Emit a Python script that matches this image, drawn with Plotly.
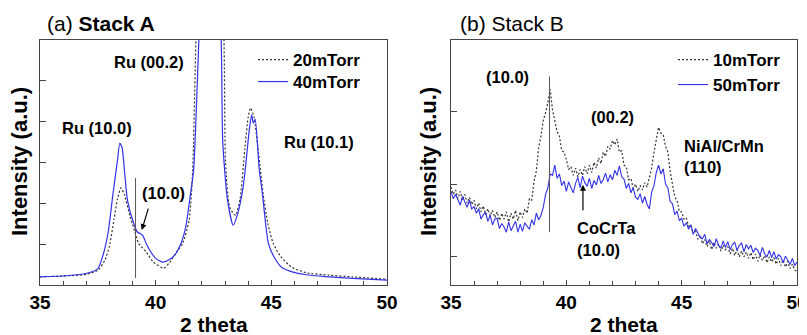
import plotly.graph_objects as go

# ---------------- Data ----------------
# Panel (a) Stack A
a_x_20 = [35, 36, 37, 37.5, 37.8, 38.0, 38.2, 38.35, 38.5, 38.65, 38.9, 39.1, 39.26, 39.6, 39.9,
          40.35, 40.6, 40.9, 41.17, 41.45, 41.6, 41.74, 42.0, 42.3, 42.6, 42.95, 43.02, 43.2,
          43.45, 43.65, 43.85, 44.0, 44.1, 44.25, 44.45, 44.65, 44.85, 45.08, 45.4, 45.87,
          46.5, 47.5, 48.5, 50]
a_y_20 = [0.2, 0.22, 0.26, 0.36, 0.6, 0.95, 1.6, 2.1, 2.37, 2.2, 1.66, 1.3, 1.02, 0.8, 0.56,
          0.41, 0.55, 0.8, 1.02, 1.6, 2.8, 6.0, 10.0, 11.0, 10.0, 6.0, 3.0, 1.9,
          1.7, 2.1, 3.3, 4.1, 4.32, 4.1, 3.2, 2.2, 1.5, 1.02, 0.7, 0.44,
          0.3, 0.24, 0.2, 0.14]

a_x_40 = [35, 36, 37, 37.5, 37.75, 37.95, 38.15, 38.35, 38.45, 38.55, 38.65, 38.78, 39.05,
          39.2, 39.35, 39.45, 39.6, 39.8, 40.0, 40.3, 40.6, 40.85, 41.1, 41.3, 41.5, 41.64,
          41.87, 42.1, 42.3, 42.5, 42.83, 42.9, 43.1, 43.35, 43.55, 43.78, 43.87, 44.05, 44.15,
          44.22, 44.3, 44.48, 44.6, 44.87, 45.1, 45.43, 45.8, 46.5, 47.5, 48.5, 50]
a_y_40 = [0.2, 0.22, 0.28, 0.4, 0.78, 1.3, 2.2, 3.05, 3.46, 3.35, 2.8, 2.07, 1.5,
          1.3, 1.25, 1.2, 1.0, 0.8, 0.65, 0.56, 0.62, 0.75, 1.02, 1.41, 2.2, 2.8,
          6.0, 9.0, 10.0, 9.0, 6.0, 3.5, 2.1, 1.46, 1.75, 2.39, 2.8, 3.8, 4.15,
          3.95, 4.05, 2.8, 2.3, 1.02, 0.7, 0.44, 0.34, 0.25, 0.2, 0.16, 0.12]

# Panel (b) Stack B: sampled every 0.1 deg from 35.0 to 50.0
b_start = 35.0
b_step = 0.1
b_y_10 = [
    1.96, 1.86, 1.92, 1.80, 1.90, 1.78, 1.86, 1.74, 1.82, 1.72,
    1.78, 1.66, 1.74, 1.62, 1.70, 1.58, 1.66, 1.56, 1.64, 1.54,
    1.62, 1.50, 1.60, 1.52, 1.62, 1.48, 1.60, 1.52, 1.64, 1.50,
    1.62, 1.54, 1.66, 1.60, 1.80, 1.78, 2.04, 2.18, 2.50, 2.66,
    2.88, 2.98, 3.12, 3.30, 3.02, 2.88, 2.72, 2.66, 2.46, 2.44,
    2.34, 2.20, 2.24, 2.12, 2.22, 2.10, 2.20, 2.12, 2.24, 2.14,
    2.26, 2.16, 2.30, 2.22, 2.36, 2.28, 2.44, 2.38, 2.52, 2.48,
    2.60, 2.54, 2.62, 2.44, 2.46, 2.26, 2.24, 2.06, 2.08, 1.94,
    2.00, 1.90, 1.98, 1.92, 2.02, 1.96, 2.08, 2.22, 2.44, 2.60,
    2.78, 2.70, 2.68, 2.52, 2.44, 2.18, 2.02, 1.82, 1.78, 1.62,
    1.62, 1.52, 1.54, 1.42, 1.44, 1.32, 1.36, 1.24, 1.30, 1.18,
    1.24, 1.14, 1.22, 1.10, 1.20, 1.12, 1.18, 1.08, 1.16, 1.10,
    1.14, 1.04, 1.12, 1.02, 1.10, 1.00, 1.08, 1.00, 1.07, 0.98,
    1.06, 0.96, 1.04, 0.94, 1.03, 0.95, 1.02, 0.92, 1.00, 0.93,
    0.99, 0.90, 0.98, 0.88, 0.96, 0.86, 0.94, 0.84, 0.90, 0.82,
    0.80]
b_y_50 = [
    1.90, 1.80, 1.86, 1.77, 1.71, 1.83, 1.74, 1.68, 1.78, 1.66,
    1.69, 1.60, 1.66, 1.52, 1.58, 1.61, 1.49, 1.57, 1.44, 1.52,
    1.53, 1.39, 1.46, 1.41, 1.34, 1.48, 1.36, 1.43, 1.49, 1.34,
    1.45, 1.35, 1.47, 1.42, 1.38, 1.51, 1.44, 1.60, 1.51, 1.57,
    1.68, 1.86, 1.95, 2.14, 2.12, 2.26, 2.08, 2.14, 1.98, 2.04,
    1.90, 2.03, 1.96, 1.88, 2.01, 2.09, 1.95, 2.11, 2.02, 1.97,
    2.08, 1.94, 2.05, 1.99, 2.12, 2.01, 2.06, 2.15, 2.03, 2.13,
    2.06, 2.19, 2.12, 2.25, 2.10, 2.07, 1.94, 2.01, 1.88, 1.95,
    1.82, 1.79, 1.87, 1.74, 1.83, 1.72, 1.66, 1.89, 1.98, 2.16,
    2.26, 2.14, 2.21, 2.00, 1.95, 1.76, 1.73, 1.58, 1.63, 1.50,
    1.53, 1.42, 1.47, 1.38, 1.44, 1.31, 1.39, 1.33, 1.27, 1.25,
    1.31, 1.18, 1.24, 1.20, 1.14, 1.25, 1.16, 1.12, 1.22, 1.13,
    1.21, 1.10, 1.17, 1.20, 1.09, 1.16, 1.19, 1.07, 1.17, 1.11,
    1.16, 1.06, 1.12, 1.09, 1.02, 1.13, 1.04, 1.00, 1.09, 0.99,
    1.07, 0.97, 1.03, 1.00, 0.92, 1.01, 0.95, 0.90, 0.98, 0.88,
    0.93]

x_ticks = [35, 40, 45, 50]
x_tick_text = ["35", "40", "45", "50"]
a_y_ticks = [1, 2, 3, 4, 5]
b_y_ticks = [1, 2, 3]

# ---------------- Figure ----------------
W, H = 807, 335
OFF = 8  # page body margin offset
FONT = "Arial, Liberation Sans, sans-serif"
BLUE = "#3232e6"
DOT = "#333333"
AXC = "#444444"


def px(x):
    return (x - OFF) / W


def py(y):
    return (H - (y - OFF)) / H


fig = go.Figure()

fig.add_trace(go.Scatter(x=a_x_20, y=a_y_20, mode="lines", name="20mTorr",
                         line=dict(color=DOT, width=1.2, dash="2px,2px", shape="spline", smoothing=0.6),
                         xaxis="x", yaxis="y", legend="legend"))
fig.add_trace(go.Scatter(x=a_x_40, y=a_y_40, mode="lines", name="40mTorr",
                         line=dict(color=BLUE, width=1.2, shape="spline", smoothing=0.6),
                         xaxis="x", yaxis="y", legend="legend2"))
fig.add_trace(go.Scatter(x0=b_start, dx=b_step, y=b_y_10, mode="lines", name="10mTorr",
                         line=dict(color=DOT, width=1.2, dash="2px,2px"),
                         xaxis="x2", yaxis="y2", legend="legend3"))
fig.add_trace(go.Scatter(x0=b_start, dx=b_step, y=b_y_50, mode="lines", name="50mTorr",
                         line=dict(color=BLUE, width=1.1),
                         xaxis="x2", yaxis="y2", legend="legend4"))

ydom = [py(285), py(40)]
common_x = dict(range=[35, 50], tickvals=x_ticks, ticktext=x_tick_text, ticks="inside", ticklen=5,
                tickcolor=AXC, showline=True, linecolor=AXC, linewidth=1, mirror=True,
                showgrid=False, zeroline=False, automargin=False,
                tickfont=dict(family=FONT, size=19, color="black", weight="bold"),
                minor=dict(dtick=1, ticks="inside", ticklen=4, tickcolor=AXC))
common_y = dict(ticks="inside", ticklen=6, tickcolor=AXC, showline=True, linecolor=AXC,
                linewidth=1, mirror=True, showgrid=False, zeroline=False, showticklabels=False,
                automargin=False)

legfont = dict(family=FONT, size=17, color="black", weight="bold")


def leg(xp, yc):
    return dict(x=px(xp), y=py(yc), xanchor="left", yanchor="middle",
                bgcolor="rgba(0,0,0,0)", font=legfont)


fig.update_layout(
    template="none",
    width=W, height=H,
    margin=dict(l=0, r=0, t=0, b=0, autoexpand=False),
    paper_bgcolor="white", plot_bgcolor="white",
    showlegend=True,
    xaxis=dict(domain=[px(40), px(387)], anchor="y", **common_x),
    yaxis=dict(domain=ydom, anchor="x", range=[0, 5.98], tickvals=a_y_ticks, **common_y),
    xaxis2=dict(domain=[px(451), px(797)], anchor="y2", **common_x),
    yaxis2=dict(domain=ydom, anchor="x2", range=[0.614, 3.98], tickvals=b_y_ticks, **common_y),
    legend=leg(253, 60),
    legend2=leg(253, 82),
    legend3=leg(673, 60),
    legend4=leg(673, 85),
)

# reference lines
fig.add_shape(type="line", xref="x", yref="y", x0=39.13, x1=39.13, y0=0.17, y1=2.61,
              line=dict(color="#555555", width=1))
fig.add_shape(type="line", xref="x2", yref="y2", x0=39.27, x1=39.27, y0=1.34, y1=3.48,
              line=dict(color="#555555", width=1))

lab = dict(family=FONT, size=16.5, color="black", weight="bold")
ann = []
# panel a labels
ann.append(dict(x=39.7, y=5.44, xref="x", yref="y", text="Ru (00.2)", showarrow=False, font=lab))
ann.append(dict(x=37.48, y=3.83, xref="x", yref="y", text="Ru (10.0)", showarrow=False, font=lab))
ann.append(dict(x=47.04, y=3.49, xref="x", yref="y", text="Ru (10.1)", showarrow=False, font=lab))
ann.append(dict(x=40.35, y=2.24, xref="x", yref="y", text="(10.0)", showarrow=False, font=lab))
ann.append(dict(x=39.4, y=1.34, xref="x", yref="y", ax=39.7, ay=1.9, axref="x", ayref="y",
                text="", showarrow=True, arrowhead=2, arrowsize=1, arrowwidth=1.2, arrowcolor="black"))
# panel b labels
ann.append(dict(x=37.47, y=3.47, xref="x2", yref="y2", text="(10.0)", showarrow=False, font=lab))
ann.append(dict(x=41.98, y=2.92, xref="x2", yref="y2", text="(00.2)", showarrow=False, font=lab))
ann.append(dict(x=45.01, y=2.52, xref="x2", yref="y2", text="NiAl/CrMn", showarrow=False,
                xanchor="left", font=lab))
ann.append(dict(x=45.01, y=2.23, xref="x2", yref="y2", text="(110)", showarrow=False,
                xanchor="left", font=lab))
ann.append(dict(x=40.38, y=1.4, xref="x2", yref="y2", text="CoCrTa", showarrow=False,
                xanchor="left", font=lab))
ann.append(dict(x=40.38, y=1.1, xref="x2", yref="y2", text="(10.0)", showarrow=False,
                xanchor="left", font=lab))
ann.append(dict(x=40.72, y=1.99, xref="x2", yref="y2", ax=40.72, ay=1.62, axref="x2", ayref="y2",
                text="", showarrow=True, arrowhead=2, arrowsize=1, arrowwidth=1.2, arrowcolor="black"))

# panel titles
ann.append(dict(x=px(45), y=py(23), xref="paper", yref="paper", xanchor="left", yanchor="middle",
                text="(a) <b>Stack A</b>", showarrow=False, font=dict(family=FONT, size=21, color="black")))
ann.append(dict(x=px(458), y=py(23), xref="paper", yref="paper", xanchor="left", yanchor="middle",
                text="(b) Stack B", showarrow=False, font=dict(family=FONT, size=21, color="black")))

# axis titles
axt = dict(family=FONT, size=21, color="black", weight="bold")
for cx in [(40 + 387) / 2, (451 + 797) / 2]:
    ann.append(dict(x=px(cx), y=py(324), xref="paper", yref="paper", text="2 theta",
                    showarrow=False, font=axt, xanchor="center", yanchor="middle"))
for cx in [19, 428]:
    ann.append(dict(x=px(cx), y=py(162), xref="paper", yref="paper", text="Intensity (a.u.)",
                    showarrow=False, textangle=-90, font=dict(family=FONT, size=22, color="black", weight="bold"),
                    xanchor="center", yanchor="middle"))

fig.update_layout(annotations=ann)
fig.write_html("out.html")
